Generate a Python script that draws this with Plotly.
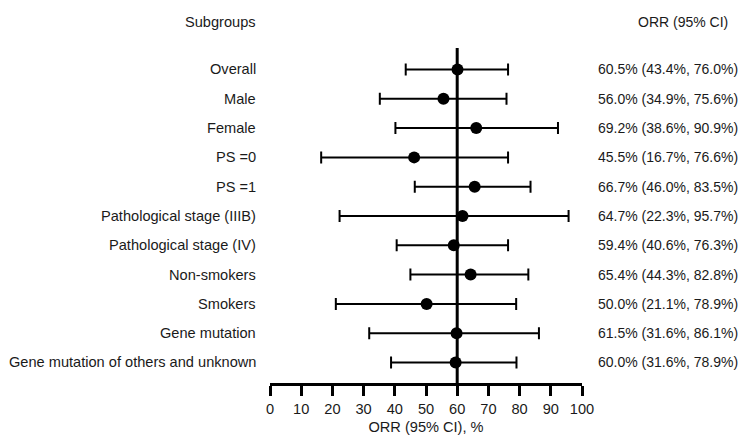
import plotly.graph_objects as go

subgroups = ["Overall", "Male", "Female", "PS =0", "PS =1",
             "Pathological stage (IIIB)", "Pathological stage (IV)",
             "Non-smokers", "Smokers", "Gene mutation",
             "Gene mutation of others and unknown"]
# point estimates and CI bounds as drawn in the picture
orr_est = [60.1, 55.6, 66.1, 46.2, 65.6, 61.7, 58.9, 64.3, 50.2, 59.8, 59.5]
ci_low = [43.5, 35.2, 40.2, 16.4, 46.4, 22.3, 40.6, 45.0, 21.1, 31.8, 38.8]
ci_high = [76.3, 75.8, 92.3, 76.3, 83.5, 95.7, 76.3, 82.8, 78.9, 86.2, 79.0]
orr_text = ["60.5% (43.4%, 76.0%)", "56.0% (34.9%, 75.6%)", "69.2% (38.6%, 90.9%)",
            "45.5% (16.7%, 76.6%)", "66.7% (46.0%, 83.5%)", "64.7% (22.3%, 95.7%)",
            "59.4% (40.6%, 76.3%)", "65.4% (44.3%, 82.8%)", "50.0% (21.1%, 78.9%)",
            "61.5% (31.6%, 86.1%)", "60.0% (31.6%, 78.9%)"]
x_ticks = list(range(0, 101, 10))
ref_value = 60

n = len(subgroups)
ypos = [n - 1 - i for i in range(n)]

FONT = "Liberation Sans, Arial, Helvetica, sans-serif"
FS = 14.6
FS_R = 14.0
TXT = "#1a1a1a"

fig = go.Figure()
fig.add_trace(go.Scatter(
    x=orr_est, y=ypos, mode="markers",
    marker=dict(color="black", size=12),
    error_x=dict(type="data", symmetric=False,
                 array=[h - e for h, e in zip(ci_high, orr_est)],
                 arrayminus=[e - l for e, l in zip(orr_est, ci_low)],
                 color="black", thickness=2, width=6),
    showlegend=False, hoverinfo="skip", cliponaxis=False,
))

fig.add_shape(type="line", xref="x", yref="paper", x0=ref_value, x1=ref_value,
              y0=0, y1=1, line=dict(color="black", width=3), layer="below")

for s, t, y in zip(subgroups, orr_text, ypos):
    fig.add_annotation(text=s, xref="paper", yref="y", x=-0.0385, y=y,
                       xanchor="right", yanchor="middle", showarrow=False,
                       font=dict(size=FS, color=TXT, family=FONT))
    fig.add_annotation(text=t, xref="paper", yref="y", x=1.045, y=y,
                       xanchor="left", yanchor="middle", showarrow=False,
                       font=dict(size=FS_R, color=TXT, family=FONT))

fig.add_annotation(text="Subgroups", xref="paper", yref="paper", x=-0.0385, y=1.0785,
                   xanchor="right", yanchor="middle", showarrow=False,
                   font=dict(size=FS, color=TXT, family=FONT))
fig.add_annotation(text="ORR (95% CI)", xref="paper", yref="paper", x=1.3238, y=1.0785,
                   xanchor="center", yanchor="middle", showarrow=False,
                   font=dict(size=FS_R, color=TXT, family=FONT))

fig.update_layout(
    width=751, height=438,
    margin=dict(l=262, r=177, t=40, b=54),
    paper_bgcolor="white", plot_bgcolor="white",
    font=dict(family=FONT, size=FS, color=TXT),
    xaxis=dict(range=[0, 100], tickvals=x_ticks, ticks="outside", ticklen=10,
               tickwidth=2.5, tickcolor="black", showline=True, linewidth=3,
               linecolor="black", showgrid=False, zeroline=False,
               tickfont=dict(size=FS, family=FONT, color=TXT),
               title=dict(text="ORR (95% CI), %", font=dict(size=FS, family=FONT, color=TXT),
                          standoff=7)),
    yaxis=dict(range=[-0.7, n - 1 + 0.733], visible=False, showgrid=False,
               zeroline=False),
)

fig.write_html("out.html")
